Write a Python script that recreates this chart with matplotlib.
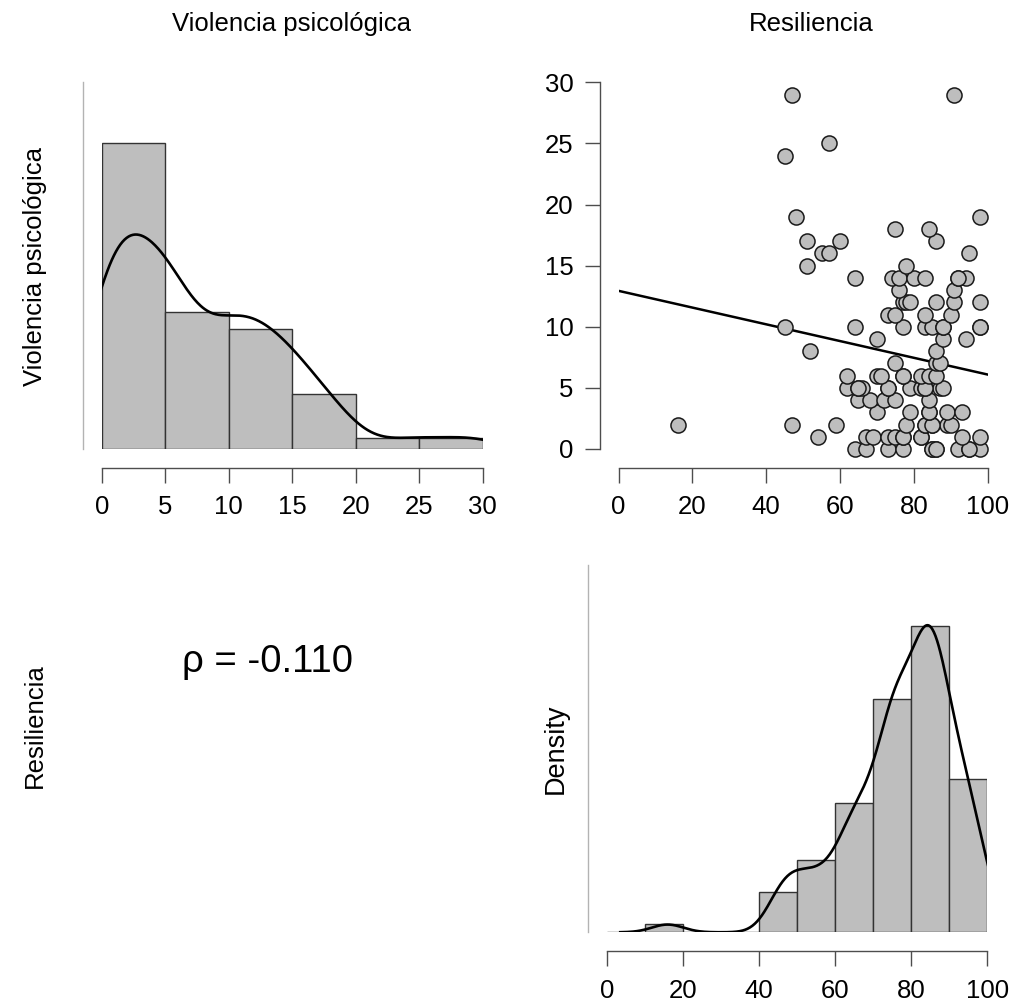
import numpy as np
import matplotlib
matplotlib.use('Agg')
import matplotlib.pyplot as plt

plt.rcParams['font.family'] = ['Liberation Sans', 'DejaVu Sans']

violencia = ([0] * 12 + [1] * 11 + [2] * 10 + [3] * 6 + [4] * 5 + [5] * 12 +
             [6] * 8 + [7] * 3 + [8] * 2 + [9] * 3 + [10] * 9 + [11] * 4 +
             [12] * 6 + [13] * 2 + [14] * 8 + [15] * 2 + [16] * 3 + [17] * 3 +
             [18] * 2 + [19] * 2 + [24] + [25] + [29] * 2)
resiliencia = ([64, 67, 73, 77, 85, 86, 92, 95, 98, 85, 86, 95] +
               [54, 67, 69, 73, 75, 77, 82, 93, 98, 82, 77] +
               [16, 47, 59, 78, 83, 85, 89, 90, 83, 85] +
               [70, 79, 84, 89, 93, 84] +
               [65, 68, 72, 75, 84] +
               [62, 65, 66, 73, 79, 82, 83, 87, 88, 65, 83, 73] +
               [62, 70, 71, 77, 82, 84, 86, 77] +
               [75, 86, 87] +
               [52, 86] +
               [70, 88, 94] +
               [45, 64, 77, 83, 85, 88, 98, 88, 98] +
               [73, 75, 83, 90] +
               [77, 78, 79, 86, 91, 98] +
               [76, 91] +
               [64, 74, 76, 80, 83, 92, 94, 92] +
               [51, 78] +
               [55, 57, 95] +
               [51, 60, 86] +
               [75, 84] +
               [48, 98] +
               [45] + [57] + [47, 91])

var_names = ['Violencia psicológica', 'Resiliencia']
rho_text = 'ρ = -0.110'
viol_edges = [0, 5, 10, 15, 20, 25, 30]
res_edges = [0, 10, 20, 30, 40, 50, 60, 70, 80, 90, 100]
viol_ticks = [0, 5, 10, 15, 20, 25, 30]
res_ticks = [0, 20, 40, 60, 80, 100]
scat_yticks = [0, 5, 10, 15, 20, 25, 30]

W, H = 1017, 1008
DPI = 100
GREY = '#bebebe'
AXC = '#4d4d4d'
FS = 18.5


def px_axes(fig, x0, x1, y0, y1):
    return fig.add_axes([x0 / W, 1 - y1 / H, (x1 - x0) / W, (y1 - y0) / H])


def style_axis(ax, light_left=False):
    for s in ['top', 'right']:
        ax.spines[s].set_visible(False)
    ax.spines['bottom'].set_position(('outward', 13.5))
    ax.spines['left'].set_position(('outward', 13.5))
    ax.spines['bottom'].set_color(AXC)
    ax.spines['bottom'].set_linewidth(1.0)
    ax.spines['left'].set_color('#b3b3b3' if light_left else AXC)
    ax.spines['left'].set_linewidth(1.0)
    ax.tick_params(axis='both', length=10.8, width=1.0, color=AXC,
                   labelsize=FS, pad=9)


def kde(data, grid):
    data = np.asarray(data, dtype=float)
    n = len(data)
    iqr = np.percentile(data, 75) - np.percentile(data, 25)
    bw = 0.9 * min(data.std(ddof=1), iqr / 1.34) * n ** -0.2
    z = (grid[:, None] - data[None, :]) / bw
    return np.exp(-0.5 * z ** 2).sum(axis=1) / (n * bw * np.sqrt(2 * np.pi)), bw


def hist_panel(ax, data, edges, ticks):
    data = np.asarray(data, dtype=float)
    edges = np.asarray(edges, dtype=float)
    # right-closed bins like R's hist()
    idx = np.digitize(data, edges[1:-1], right=True)
    counts = np.bincount(idx, minlength=len(edges) - 1)
    widths = np.diff(edges)
    dens = counts / (len(data) * widths)
    ax.bar(edges[:-1], dens, width=widths, align='edge', color=GREY,
           edgecolor='#333333', linewidth=1.0)
    _, bw = kde(data, np.array([0.0]))
    grid = np.linspace(data.min() - 3 * bw, data.max() + 3 * bw, 512)
    d, _ = kde(data, grid)
    ax.plot(grid, d, color='black', lw=1.9)
    ax.set_xlim(edges[0], edges[-1])
    ax.set_ylim(0, dens.max() * 1.2)
    ax.set_xticks(ticks)
    ax.set_yticks([])
    style_axis(ax, light_left=True)


fig = plt.figure(figsize=(W / DPI, H / DPI), dpi=DPI)

# top-left histogram
ax1 = px_axes(fig, 101.7, 482.7, 82, 449)
hist_panel(ax1, violencia, viol_edges, viol_ticks)

# top-right scatter
ax2 = px_axes(fig, 618.5, 987.7, 82.3, 449)
ax2.scatter(resiliencia, violencia, s=118, facecolor=GREY, edgecolor='#1a1a1a',
            linewidth=1.1, zorder=3, clip_on=False)
b, a = np.polyfit(resiliencia, violencia, 1)
xs = np.array([0, 100])
ax2.plot(xs, a + b * xs, color='black', lw=1.8, zorder=2)
ax2.set_xlim(0, 100)
ax2.set_ylim(0, 30)
ax2.set_xticks(res_ticks)
ax2.set_yticks(scat_yticks)
style_axis(ax2)
ax2.tick_params(axis='y', pad=8)

# bottom-right histogram
ax3 = px_axes(fig, 606.7, 987.3, 565, 932.3)
hist_panel(ax3, resiliencia, res_edges, res_ticks)
ax3.set_ylabel('Density', fontsize=FS + 1, labelpad=14)

# bottom-left correlation text
fig.text(268 / W, 1 - 662 / H, rho_text, fontsize=27.5, ha='center', va='center')

# titles and row labels
fig.text(292 / W, 1 - 24 / H, var_names[0], fontsize=FS, ha='center', va='center')
fig.text(811 / W, 1 - 24 / H, var_names[1], fontsize=FS, ha='center', va='center')
fig.text(35 / W, 1 - 266 / H, var_names[0], fontsize=FS, rotation=90,
         ha='center', va='center')
fig.text(35 / W, 1 - 726 / H, var_names[1], fontsize=FS, rotation=90,
         ha='center', va='center')

fig.savefig('out.png', dpi=DPI)
